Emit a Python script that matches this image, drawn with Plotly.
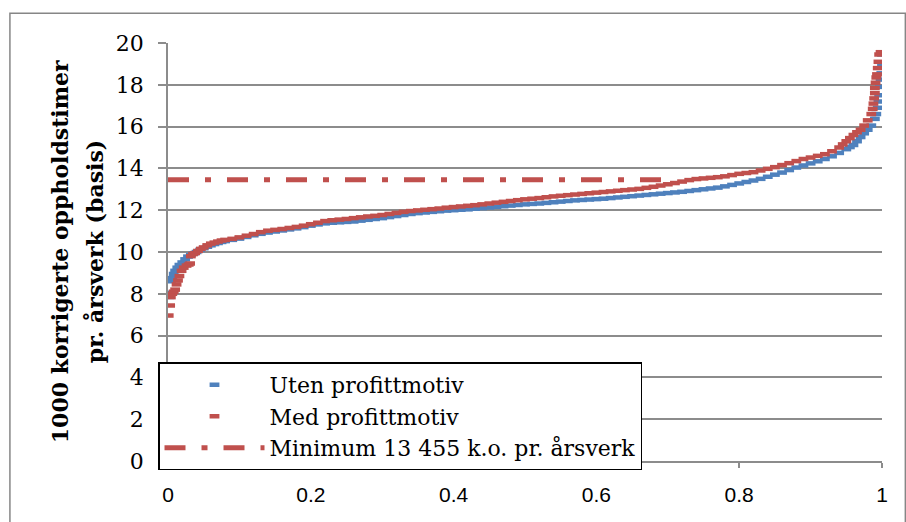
import plotly.graph_objects as go

# ---- data ----
uten_x = [0.002, 0.003, 0.004, 0.006, 0.008, 0.010, 0.013, 0.016, 0.020, 0.024, 0.028, 0.032, 0.036,
          0.04, 0.045, 0.05, 0.055, 0.06, 0.065, 0.07, 0.075, 0.08, 0.09, 0.10, 0.11, 0.12, 0.13, 0.14,
          0.15, 0.16, 0.17, 0.18, 0.19, 0.20, 0.21, 0.22, 0.23, 0.24, 0.25, 0.26, 0.27, 0.28, 0.29,
          0.30, 0.31, 0.32, 0.33, 0.34, 0.35, 0.36, 0.37, 0.38, 0.39, 0.40, 0.41, 0.42, 0.43, 0.44,
          0.45, 0.46, 0.47, 0.48, 0.49, 0.50, 0.51, 0.52, 0.53, 0.54, 0.55, 0.56, 0.57, 0.58, 0.59,
          0.60, 0.61, 0.62, 0.63, 0.64, 0.65, 0.66, 0.67, 0.68, 0.69, 0.70, 0.71, 0.72, 0.73, 0.74,
          0.75, 0.76, 0.77, 0.78, 0.79, 0.80, 0.81, 0.82, 0.83, 0.84, 0.85, 0.86, 0.87, 0.88, 0.89,
          0.90, 0.91, 0.92, 0.93, 0.94, 0.95, 0.955, 0.96, 0.965, 0.97, 0.975, 0.98, 0.985, 0.99,
          0.992, 0.994, 0.995, 0.996, 0.997, 0.998, 0.999, 1.0, 1.0]
uten_y = [7.85, 8.05, 8.6, 8.75, 8.95, 9.1, 9.25, 9.38, 9.5, 9.65, 9.78, 9.86, 9.93,
          10.0, 10.1, 10.18, 10.25, 10.32, 10.38, 10.43, 10.48, 10.52, 10.58, 10.64, 10.72, 10.8, 10.87, 10.93,
          10.98, 11.03, 11.08, 11.13, 11.19, 11.26, 11.32, 11.37, 11.4, 11.42, 11.44, 11.46, 11.5, 11.54, 11.58,
          11.62, 11.67, 11.72, 11.77, 11.82, 11.86, 11.89, 11.92, 11.95, 11.98, 12.0, 12.02, 12.04, 12.07, 12.1,
          12.13, 12.16, 12.19, 12.22, 12.25, 12.28, 12.3, 12.32, 12.35, 12.38, 12.41, 12.44, 12.47, 12.49, 12.51,
          12.53, 12.55, 12.58, 12.61, 12.64, 12.67, 12.7, 12.73, 12.76, 12.79, 12.82, 12.85, 12.88, 12.92, 12.96,
          13.0, 13.04, 13.08, 13.14, 13.21, 13.28, 13.35, 13.42, 13.5, 13.6, 13.7, 13.8, 13.92, 14.04, 14.14,
          14.24, 14.34, 14.45, 14.58, 14.74, 14.92, 15.02, 15.12, 15.3, 15.5, 15.68, 15.85, 16.05, 16.37,
          16.6, 16.9, 17.2, 17.5, 17.9, 18.25, 18.55, 18.95, 19.45]

med_x = [0.001, 0.003, 0.004, 0.006, 0.008, 0.010, 0.012, 0.014, 0.016, 0.019, 0.022, 0.026, 0.029,
         0.031, 0.032, 0.035, 0.038, 0.042, 0.046, 0.05, 0.055, 0.06, 0.065, 0.07, 0.075, 0.08, 0.09,
         0.10, 0.11, 0.12, 0.13, 0.14, 0.15, 0.16, 0.17, 0.18, 0.19, 0.20, 0.21, 0.22, 0.23, 0.24,
         0.25, 0.26, 0.27, 0.28, 0.29, 0.30, 0.31, 0.32, 0.33, 0.34, 0.35, 0.36, 0.37, 0.38, 0.39,
         0.40, 0.41, 0.42, 0.43, 0.44, 0.45, 0.46, 0.47, 0.48, 0.49, 0.50, 0.51, 0.52, 0.53, 0.54,
         0.55, 0.56, 0.57, 0.58, 0.59, 0.60, 0.61, 0.62, 0.63, 0.64, 0.65, 0.66, 0.67, 0.68, 0.69,
         0.70, 0.71, 0.72, 0.73, 0.74, 0.75, 0.76, 0.77, 0.78, 0.79, 0.80, 0.81, 0.82, 0.83, 0.84,
         0.85, 0.86, 0.87, 0.88, 0.89, 0.90, 0.91, 0.92, 0.93, 0.94, 0.945, 0.95, 0.955, 0.96, 0.965,
         0.97, 0.975, 0.98, 0.985, 0.987, 0.988, 0.989, 0.99, 0.99, 0.991, 0.992, 0.993, 0.994, 0.995,
         0.996, 0.998]
med_y = [6.96, 7.44, 7.84, 8.0, 8.1, 8.2, 8.45, 8.64, 8.85, 9.1, 9.25, 9.35, 9.4,
         9.45, 9.8, 9.9, 9.95, 10.05, 10.15, 10.22, 10.32, 10.4, 10.45, 10.5, 10.55, 10.58, 10.63,
         10.7, 10.78, 10.86, 10.95, 11.02, 11.06, 11.1, 11.15, 11.2, 11.26, 11.33, 11.4, 11.48, 11.52, 11.55,
         11.58, 11.62, 11.66, 11.7, 11.73, 11.77, 11.82, 11.87, 11.92, 11.96, 11.99, 12.02, 12.05, 12.08, 12.12,
         12.15, 12.18, 12.21, 12.24, 12.28, 12.32, 12.36, 12.4, 12.44, 12.48, 12.52, 12.55, 12.58, 12.62, 12.66,
         12.69, 12.72, 12.75, 12.78, 12.81, 12.84, 12.87, 12.9, 12.93, 12.96, 12.99, 13.02, 13.07, 13.12, 13.18,
         13.24, 13.3, 13.37, 13.44, 13.49, 13.52, 13.55, 13.58, 13.62, 13.68, 13.74, 13.78, 13.82, 13.9, 13.98,
         14.06, 14.16, 14.25, 14.35, 14.45, 14.52, 14.6, 14.68, 14.82, 15.0, 15.15, 15.3, 15.45, 15.6, 15.73,
         15.85, 16.05, 16.3, 16.6, 16.85, 17.1, 17.35, 17.6, 17.85, 18.1, 18.35, 18.5, 18.8, 19.1,
         19.45, 19.56]

min_x = [0.0, 0.71]
min_y = [13.455, 13.455]

x_ticks = [0, 0.2, 0.4, 0.6, 0.8, 1]
x_tick_labels = ["0", "0.2", "0.4", "0.6", "0.8", "1"]
y_ticks = [0, 2, 4, 6, 8, 10, 12, 14, 16, 18, 20]

names = ["Uten profittmotiv", "Med profittmotiv", "Minimum 13 455 k.o. pr. årsverk"]
title_lines = ["1000 korrigerte oppholdstimer", "pr. årsverk (basis)"]

BLUE = "#4F81BD"
RED = "#C0504D"
GRID = "#8C8C8C"
SERIF = "DejaVu Serif"

fig = go.Figure()
fig.add_trace(go.Scatter(
    x=uten_x, y=uten_y, mode="markers", name=names[0],
    marker=dict(symbol="line-ew", size=7, line=dict(width=4.5, color=BLUE), color=BLUE)))
fig.add_trace(go.Scatter(
    x=med_x, y=med_y, mode="markers", name=names[1],
    marker=dict(symbol="line-ew", size=7, line=dict(width=4.5, color=RED), color=RED)))
fig.add_trace(go.Scatter(
    x=min_x, y=min_y, mode="lines", name=names[2],
    line=dict(color=RED, width=5, dash="21px,16px,6px,16px")))

fig.update_layout(
    width=906, height=522,
    margin=dict(l=168, r=24, t=43, b=61),
    paper_bgcolor="white", plot_bgcolor="white",
    showlegend=True,
    legend=dict(
        x=-0.014, y=0.236, xanchor="left", yanchor="top",
        bgcolor="white", bordercolor="black", borderwidth=1.5,
        font=dict(family=SERIF, size=22, color="black"),
        itemwidth=100,
    ),
    xaxis=dict(
        range=[0, 1], tickvals=x_ticks, ticktext=x_tick_labels,
        showgrid=False, zeroline=False,
        showline=True, linecolor=GRID, linewidth=1.5,
        ticks="outside", ticklen=5, tickcolor=GRID, tickwidth=1.5,
        tickfont=dict(family="Liberation Sans Narrow, Liberation Sans, sans-serif", size=21, color="black"),
        ticklabelstandoff=9,
    ),
    yaxis=dict(
        range=[0, 20], tickvals=y_ticks,
        showgrid=True, gridcolor=GRID, gridwidth=1.5,
        zeroline=False,
        showline=True, linecolor=GRID, linewidth=1.5,
        ticks="outside", ticklen=8, tickcolor=GRID, tickwidth=1.5,
        tickfont=dict(family=SERIF, size=22, color="black"),
        ticklabelstandoff=10,
    ),
)

# y-axis title as two rotated lines
fig.add_annotation(text="<b>" + title_lines[0] + "</b>", xref="paper", yref="paper",
                   x=-0.151, y=0.5, xanchor="center", yanchor="middle", textangle=-90,
                   showarrow=False, font=dict(family=SERIF, size=22, color="black"))
fig.add_annotation(text="<b>" + title_lines[1] + "</b>", xref="paper", yref="paper",
                   x=-0.102, y=0.5, xanchor="center", yanchor="middle", textangle=-90,
                   showarrow=False, font=dict(family=SERIF, size=22, color="black"))

# outer chart frame
fig.add_shape(type="rect", xref="paper", yref="paper",
              x0=-0.2214, x1=1.0327, y0=-0.2, y1=1.0711,
              line=dict(color="#868686", width=1.5), layer="below")

fig.write_html("out.html", config={"displayModeBar": False},
               post_script="document.body.style.margin='0';")
